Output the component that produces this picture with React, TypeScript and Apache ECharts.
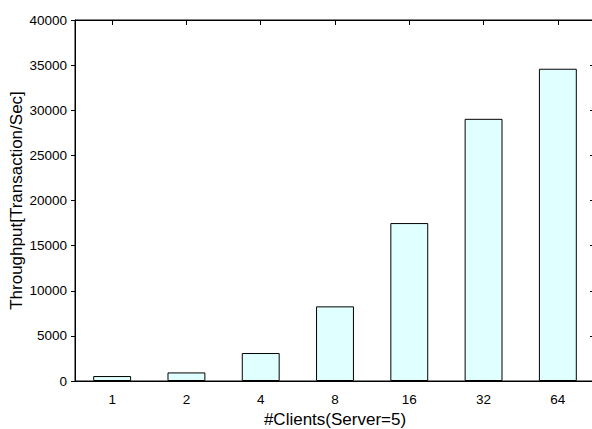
import React, { useEffect, useRef } from "react";
import * as echarts from "echarts";

const categories = ["1", "2", "4", "8", "16", "32", "64"];
const throughput = [550, 950, 3100, 8270, 17500, 29050, 34600];
const yTicks = { min: 0, max: 40000, interval: 5000 };

export default function App() {
  const ref = useRef<HTMLDivElement>(null);
  useEffect(() => {
    document.documentElement.style.overflow = "hidden";
    document.body.style.overflow = "hidden";
    const chart = echarts.init(ref.current!, null, { renderer: "svg" });
    const font = "'Liberation Sans', Arial, sans-serif";
    chart.setOption({
      animation: false,
      backgroundColor: "#ffffff",
      grid: {
        left: 75,
        top: 20,
        right: 0,
        bottom: 48,
        containLabel: false,
        outerBoundsMode: "none",
        show: true,
        borderColor: "#000",
        borderWidth: 1,
        backgroundColor: "transparent",
      },
      xAxis: [
        {
          type: "category",
          data: categories,
          position: "bottom",
          name: "#Clients(Server=5)",
          nameLocation: "middle",
          nameGap: 30,
          nameMoveOverlap: false,
          nameTextStyle: { fontSize: 17, color: "#000", fontFamily: font },
          axisLine: { onZero: false, lineStyle: { color: "#000", width: 1 } },
          axisTick: { show: false },
          axisLabel: { fontSize: 13.5, color: "#000", margin: 11, fontFamily: font },
        },
        {
          type: "category",
          data: categories,
          position: "top",
          axisLine: { show: true, onZero: false, lineStyle: { color: "#000", width: 1 } },
          axisTick: { show: true, inside: true, length: 5, alignWithLabel: true, lineStyle: { color: "#000" } },
          axisLabel: { show: false },
        },
      ],
      yAxis: [
        {
          type: "value",
          min: yTicks.min,
          max: yTicks.max,
          interval: yTicks.interval,
          position: "left",
          name: "Throughput[Transaction/Sec]",
          nameLocation: "middle",
          nameGap: 50,
          nameMoveOverlap: false,
          nameTextStyle: { fontSize: 17, color: "#000", fontFamily: font },
          axisLine: { show: true, onZero: false, lineStyle: { color: "#000", width: 1 } },
          axisTick: { show: true, inside: false, length: 4, lineStyle: { color: "#000" } },
          axisLabel: { fontSize: 13.5, color: "#000", margin: 8, fontFamily: font, formatter: (v: number) => String(v) },
          splitLine: { show: false },
        },
        {
          type: "value",
          min: yTicks.min,
          max: yTicks.max,
          interval: yTicks.interval,
          position: "right",
          axisLine: { show: true, onZero: false, lineStyle: { color: "#000", width: 1 } },
          axisTick: { show: true, inside: true, length: 5, lineStyle: { color: "#000" } },
          axisLabel: { show: false },
          splitLine: { show: false },
        },
      ],
      series: [
        {
          type: "bar",
          data: throughput,
          xAxisIndex: 0,
          yAxisIndex: 0,
          barWidth: "51%",
          itemStyle: { color: "#e0ffff", borderColor: "#000", borderWidth: 1 },
        },
      ],
    });
    return () => chart.dispose();
  }, []);
  return (
    <div
      ref={ref}
      style={{ position: "absolute", left: 0, top: 0, width: 595, height: 429 }}
    />
  );
}
